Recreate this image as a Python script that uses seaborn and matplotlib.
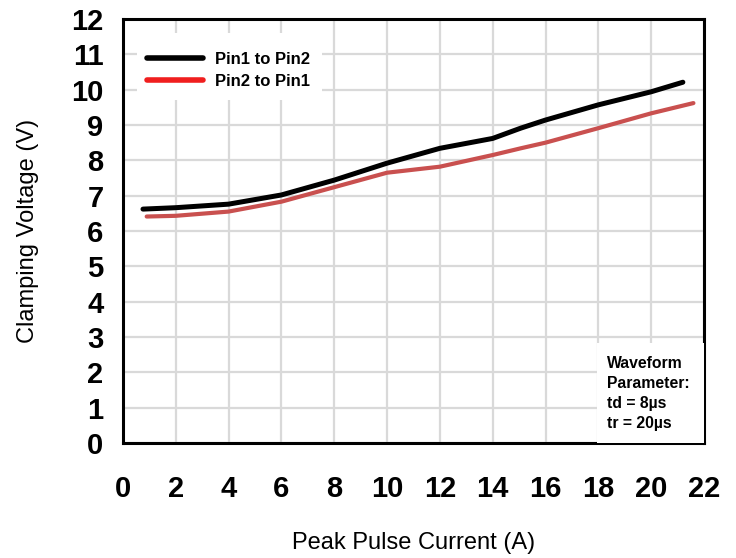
import numpy as np
import pandas as pd
import seaborn as sns
import matplotlib.pyplot as plt
from matplotlib.lines import Line2D
from matplotlib.patches import Rectangle

# Curve data
pin12_current = [0.76, 2, 4, 6, 8, 10, 12, 14, 15.06, 16, 18, 20, 21.2]
pin12_voltage = [6.62, 6.66, 6.76, 7.02, 7.44, 7.92, 8.34, 8.62, 8.91, 9.14, 9.57, 9.94, 10.21]
pin21_current = [0.9, 2, 4, 6, 8, 10, 12, 14, 15.06, 16, 18, 20, 21.6]
pin21_voltage = [6.41, 6.43, 6.55, 6.83, 7.24, 7.65, 7.82, 8.15, 8.34, 8.5, 8.91, 9.33, 9.62]

series_names = ["Pin1 to Pin2", "Pin2 to Pin1"]
x_ticks = list(range(0, 23, 2))
y_ticks = list(range(0, 13))
note_text = "Waveform\nParameter:\ntd = 8µs\ntr = 20µs"

df = pd.concat([
    pd.DataFrame({"current": pin12_current, "voltage": pin12_voltage, "series": series_names[0]}),
    pd.DataFrame({"current": pin21_current, "voltage": pin21_voltage, "series": series_names[1]}),
])

sns.set_style("white")
plt.rcParams["font.family"] = ["Liberation Sans", "DejaVu Sans"]

fig = plt.figure(figsize=(7.36, 5.58), dpi=100)
ax = fig.add_axes([0.167, 0.206, 0.7895, 0.760])

curve_colors = {series_names[0]: "#000000", series_names[1]: "#c9504f"}
sns.lineplot(data=df, x="current", y="voltage", hue="series", palette=curve_colors,
             size="series", sizes={series_names[0]: 3.6, series_names[1]: 3.0},
             sort=False, legend=False, ax=ax, zorder=5, solid_capstyle="round")

ax.set_xlim(0, 22)
ax.set_ylim(0, 12)
ax.set_xticks(x_ticks)
ax.set_yticks(y_ticks)
ax.grid(True, color="#d9d9d9", linewidth=1.6, zorder=0)
ax.set_axisbelow(True)
for s in ax.spines.values():
    s.set_color("black")
    s.set_linewidth(2.2)
    s.set_visible(True)

ax.tick_params(axis="x", length=0, pad=23, labelsize=21, labelcolor="black")
ax.tick_params(axis="y", length=0, pad=14, labelsize=21, labelcolor="black")
for lab in ax.get_xticklabels() + ax.get_yticklabels():
    lab.set_fontweight("bold")

ax.set_xlabel("Peak Pulse Current (A)", fontsize=17, labelpad=21, color="black")
ax.set_ylabel("Clamping Voltage (V)", fontsize=17, labelpad=23, color="black")

# white panel behind the legend, like the original
ax.add_patch(Rectangle((0.024, 0.809), 0.318, 0.158, transform=ax.transAxes,
                       facecolor="white", edgecolor="none", zorder=3))
handles = [Line2D([], [], color="black", linewidth=4, solid_capstyle="round"),
           Line2D([], [], color="#f01e1e", linewidth=4, solid_capstyle="round")]
leg = ax.legend(handles, series_names, loc="upper left", bbox_to_anchor=(0.041, 0.922),
                frameon=False, prop={"weight": "bold", "size": 12}, handlelength=3.4,
                handletextpad=0.7, labelspacing=0.42, borderpad=0, borderaxespad=0)
for t in leg.get_texts():
    t.set_color("black")
leg.set_zorder(6)

ax.add_patch(Rectangle((0.816, 0), 0.184, 0.236, transform=ax.transAxes,
                       facecolor="white", edgecolor="none", zorder=3))
ax.text(0.833, 0.205, note_text, transform=ax.transAxes, va="top", ha="left",
        fontsize=11.3, fontweight="bold", linespacing=1.42, zorder=7, color="black")

plt.savefig("out.png", dpi=100)
